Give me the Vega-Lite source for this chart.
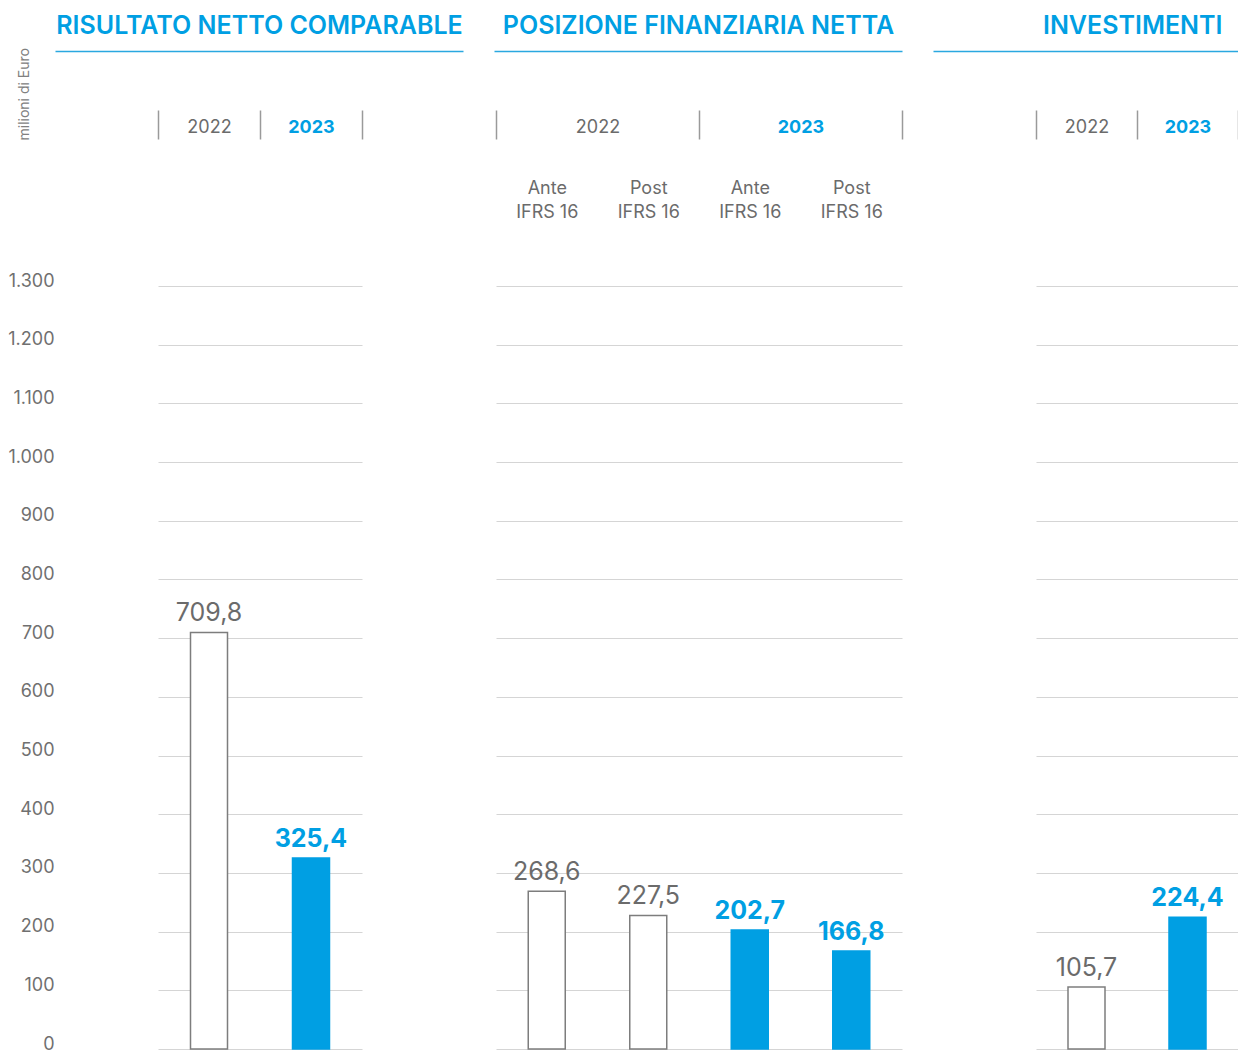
{
  "$schema": "https://vega.github.io/schema/vega-lite/v6.json",
  "autosize": {"type": "pad"},
  "padding": {"left": 7, "top": 13, "right": 0, "bottom": 0},
  "bounds": "flush",
  "spacing": 134,
  "config": {
    "font": "Inter",
    "view": {"stroke": null},
    "locale": {"number": {"decimal": ",", "thousands": ".", "grouping": [3], "currency": ["€", ""]}}
  },
  "datasets": {
    "p1": [
      {"panel": "RISULTATO NETTO COMPARABLE", "year": "2022", "value": 709.8},
      {"panel": "RISULTATO NETTO COMPARABLE", "year": "2023", "value": 325.4}
    ],
    "p2": [
      {"panel": "POSIZIONE FINANZIARIA NETTA", "year": "2022", "type": "Ante", "cat": "2022 Ante", "value": 268.6},
      {"panel": "POSIZIONE FINANZIARIA NETTA", "year": "2022", "type": "Post", "cat": "2022 Post", "value": 227.5},
      {"panel": "POSIZIONE FINANZIARIA NETTA", "year": "2023", "type": "Ante", "cat": "2023 Ante", "value": 202.7},
      {"panel": "POSIZIONE FINANZIARIA NETTA", "year": "2023", "type": "Post", "cat": "2023 Post", "value": 166.8}
    ],
    "p3": [
      {"panel": "INVESTIMENTI", "year": "2022", "value": 105.7},
      {"panel": "INVESTIMENTI", "year": "2023", "value": 224.4}
    ]
  },
  "hconcat": [
    {
      "width": 204,
      "height": 763,
      "data": {"name": "p1"},
      "resolve": {"scale": {"x": "independent"}, "axis": {"x": "independent"}},
      "layer": [
        {
          "mark": {"type": "bar", "width": 37, "strokeWidth": 1.5},
          "encoding": {
            "x": {"field": "year", "type": "nominal", "scale": {"domain": ["2022", "2023"], "paddingInner": 0, "paddingOuter": 0},
              "axis": {"orient": "top", "offset": 147, "tickBand": "extent", "tickOffset": 3, "domain": false, "ticks": true, "tickSize": 29, "tickColor": "#9a9a9a", "tickWidth": 1.5, "grid": false, "labelAngle": 0, "labelFontSize": 18, "labelBaseline": "middle", "labelPadding": -17,
                "labelColor": {"condition": {"test": "datum.value == '2023'", "value": "#009FE3"}, "value": "#6b6b6b"},
                "labelFontWeight": {"condition": {"test": "datum.value == '2023'", "value": "bold"}, "value": "normal"},
                "title": null}},
            "y": {"field": "value", "type": "quantitative", "scale": {"domain": [0, 1300], "nice": false},
              "axis": {"values": [0, 100, 200, 300, 400, 500, 600, 700, 800, 900, 1000, 1100, 1200, 1300], "format": ",d", "grid": true, "gridColor": "#d5d5d5", "gridWidth": 1, "domain": false, "ticks": false, "tickSize": 0, "labelPadding": 104, "labelFontSize": 18, "labelColor": "#707070", "labelBaseline": "alphabetic",
                "title": "milioni di Euro", "titleAngle": -90, "titleAlign": "left", "titleBaseline": "middle", "titleX": -134, "titleY": -146, "titleFontSize": 14, "titleFontWeight": "normal", "titleColor": "#808080"}},
            "fill": {"field": "year", "type": "nominal", "scale": {"domain": ["2022", "2023"], "range": ["#ffffff", "#009FE3"]}, "legend": null},
            "stroke": {"field": "year", "type": "nominal", "scale": {"domain": ["2022", "2023"], "range": ["#7d7d7d", "#009FE3"]}, "legend": null}
          }
        },
        {
          "transform": [{"filter": "datum.year == '2022'"}],
          "mark": {"type": "text", "baseline": "alphabetic", "dy": -11, "fontSize": 25, "color": "#6b6b6b"},
          "encoding": {
            "x": {"field": "year", "type": "nominal", "scale": {"domain": ["2022", "2023"], "paddingInner": 0, "paddingOuter": 0}, "axis": null},
            "y": {"field": "value", "type": "quantitative", "scale": {"domain": [0, 1300], "nice": false},
              "axis": {"values": [0, 100, 200, 300, 400, 500, 600, 700, 800, 900, 1000, 1100, 1200, 1300], "format": ",d", "grid": true, "gridColor": "#d5d5d5", "gridWidth": 1, "domain": false, "ticks": false, "tickSize": 0, "labelPadding": 104, "labelFontSize": 18, "labelColor": "#707070", "labelBaseline": "alphabetic",
                "title": "milioni di Euro", "titleAngle": -90, "titleAlign": "left", "titleBaseline": "middle", "titleX": -134, "titleY": -146, "titleFontSize": 14, "titleFontWeight": "normal", "titleColor": "#808080"}},
            "text": {"field": "value", "type": "quantitative", "format": ",.1f"}
          }
        },
        {
          "transform": [{"filter": "datum.year == '2023'"}],
          "mark": {"type": "text", "baseline": "alphabetic", "dy": -11, "fontSize": 25, "fontWeight": "bold", "color": "#009FE3"},
          "encoding": {
            "x": {"field": "year", "type": "nominal", "scale": {"domain": ["2022", "2023"], "paddingInner": 0, "paddingOuter": 0}, "axis": null},
            "y": {"field": "value", "type": "quantitative", "scale": {"domain": [0, 1300], "nice": false},
              "axis": {"values": [0, 100, 200, 300, 400, 500, 600, 700, 800, 900, 1000, 1100, 1200, 1300], "format": ",d", "grid": true, "gridColor": "#d5d5d5", "gridWidth": 1, "domain": false, "ticks": false, "tickSize": 0, "labelPadding": 104, "labelFontSize": 18, "labelColor": "#707070", "labelBaseline": "alphabetic",
                "title": "milioni di Euro", "titleAngle": -90, "titleAlign": "left", "titleBaseline": "middle", "titleX": -134, "titleY": -146, "titleFontSize": 14, "titleFontWeight": "normal", "titleColor": "#808080"}},
            "text": {"field": "value", "type": "quantitative", "format": ",.1f"}
          }
        },
        {
          "mark": {"type": "point", "opacity": 0},
          "encoding": {
            "x": {"field": "panel", "type": "nominal", "scale": {"range": [-103, 305], "paddingInner": 0, "paddingOuter": 0},
              "axis": {"orient": "top", "offset": 235, "domain": true, "domainColor": "#2aa8e0", "domainWidth": 1.5, "ticks": false, "labels": false, "grid": false,
                "title": "RISULTATO NETTO COMPARABLE", "titleFontSize": 25, "titleFontWeight": 600, "titleColor": "#009FE3", "titleBaseline": "alphabetic", "titlePadding": 18, "titleAnchor": "middle"}}
          }
        }
      ]
    },
    {
      "width": 406,
      "height": 763,
      "data": {"name": "p2"},
      "resolve": {"scale": {"x": "independent"}, "axis": {"x": "independent"}},
      "layer": [
        {
          "mark": {"type": "bar", "width": 37, "strokeWidth": 1.5},
          "encoding": {
            "x": {"field": "year", "type": "nominal", "scale": {"domain": ["2022", "2023"], "paddingInner": 0, "paddingOuter": 0},
              "axis": {"orient": "top", "offset": 147, "tickBand": "extent", "tickOffset": -1, "domain": false, "ticks": true, "tickSize": 29, "tickColor": "#9a9a9a", "tickWidth": 1.5, "grid": false, "labelAngle": 0, "labelFontSize": 18, "labelBaseline": "middle", "labelPadding": -17,
                "labelColor": {"condition": {"test": "datum.value == '2023'", "value": "#009FE3"}, "value": "#6b6b6b"},
                "labelFontWeight": {"condition": {"test": "datum.value == '2023'", "value": "bold"}, "value": "normal"},
                "title": null}},
            "xOffset": {"field": "type", "type": "nominal", "scale": {"domain": ["Ante", "Post"], "paddingInner": 0, "paddingOuter": 0}},
            "y": {"field": "value", "type": "quantitative", "scale": {"domain": [0, 1300], "nice": false},
              "axis": {"values": [0, 100, 200, 300, 400, 500, 600, 700, 800, 900, 1000, 1100, 1200, 1300], "grid": true, "gridColor": "#d5d5d5", "gridWidth": 1, "domain": false, "ticks": false, "labels": false, "title": null}},
            "fill": {"field": "year", "type": "nominal", "scale": {"domain": ["2022", "2023"], "range": ["#ffffff", "#009FE3"]}, "legend": null},
            "stroke": {"field": "year", "type": "nominal", "scale": {"domain": ["2022", "2023"], "range": ["#7d7d7d", "#009FE3"]}, "legend": null}
          }
        },
        {
          "transform": [{"filter": "datum.year == '2022'"}],
          "mark": {"type": "text", "baseline": "alphabetic", "dy": -11, "fontSize": 25, "color": "#6b6b6b"},
          "encoding": {
            "x": {"field": "cat", "type": "nominal", "scale": {"domain": ["2022 Ante", "2022 Post", "2023 Ante", "2023 Post"], "paddingInner": 0, "paddingOuter": 0},
              "axis": {"orient": "top", "offset": 0, "domain": false, "ticks": false, "tickSize": 0, "grid": false, "labelAngle": 0, "labelFontSize": 18, "labelColor": "#6b6b6b", "labelBaseline": "top", "labelPadding": 107, "labelLineHeight": 24,
                "labelExpr": "[split(datum.value, ' ')[1], 'IFRS 16']", "title": null}},
            "y": {"field": "value", "type": "quantitative", "scale": {"domain": [0, 1300], "nice": false},
              "axis": {"values": [0, 100, 200, 300, 400, 500, 600, 700, 800, 900, 1000, 1100, 1200, 1300], "grid": true, "gridColor": "#d5d5d5", "gridWidth": 1, "domain": false, "ticks": false, "labels": false, "title": null}},
            "text": {"field": "value", "type": "quantitative", "format": ",.1f"}
          }
        },
        {
          "transform": [{"filter": "datum.year == '2023'"}],
          "mark": {"type": "text", "baseline": "alphabetic", "dy": -11, "fontSize": 25, "fontWeight": "bold", "color": "#009FE3"},
          "encoding": {
            "x": {"field": "cat", "type": "nominal", "scale": {"domain": ["2022 Ante", "2022 Post", "2023 Ante", "2023 Post"], "paddingInner": 0, "paddingOuter": 0}, "axis": null},
            "y": {"field": "value", "type": "quantitative", "scale": {"domain": [0, 1300], "nice": false},
              "axis": {"values": [0, 100, 200, 300, 400, 500, 600, 700, 800, 900, 1000, 1100, 1200, 1300], "grid": true, "gridColor": "#d5d5d5", "gridWidth": 1, "domain": false, "ticks": false, "labels": false, "title": null}},
            "text": {"field": "value", "type": "quantitative", "format": ",.1f"}
          }
        },
        {
          "mark": {"type": "point", "opacity": 0},
          "encoding": {
            "x": {"field": "panel", "type": "nominal", "scale": {"range": [-2, 406], "paddingInner": 0, "paddingOuter": 0},
              "axis": {"orient": "top", "offset": 235, "domain": true, "domainColor": "#2aa8e0", "domainWidth": 1.5, "ticks": false, "labels": false, "grid": false,
                "title": "POSIZIONE FINANZIARIA NETTA", "titleFontSize": 25, "titleFontWeight": 600, "titleColor": "#009FE3", "titleBaseline": "alphabetic", "titlePadding": 18, "titleAnchor": "middle"}}
          }
        }
      ]
    },
    {
      "width": 202,
      "height": 763,
      "data": {"name": "p3"},
      "resolve": {"scale": {"x": "independent"}, "axis": {"x": "independent"}},
      "layer": [
        {
          "mark": {"type": "bar", "width": 37, "strokeWidth": 1.5},
          "encoding": {
            "x": {"field": "year", "type": "nominal", "scale": {"domain": ["2022", "2023"], "paddingInner": 0, "paddingOuter": 0},
              "axis": {"orient": "top", "offset": 147, "tickBand": "extent", "tickOffset": -1, "domain": false, "ticks": true, "tickSize": 29, "tickColor": "#9a9a9a", "tickWidth": 1.5, "grid": false, "labelAngle": 0, "labelFontSize": 18, "labelBaseline": "middle", "labelPadding": -17,
                "labelColor": {"condition": {"test": "datum.value == '2023'", "value": "#009FE3"}, "value": "#6b6b6b"},
                "labelFontWeight": {"condition": {"test": "datum.value == '2023'", "value": "bold"}, "value": "normal"},
                "title": null}},
            "y": {"field": "value", "type": "quantitative", "scale": {"domain": [0, 1300], "nice": false},
              "axis": {"values": [0, 100, 200, 300, 400, 500, 600, 700, 800, 900, 1000, 1100, 1200, 1300], "grid": true, "gridColor": "#d5d5d5", "gridWidth": 1, "domain": false, "ticks": false, "labels": false, "title": null}},
            "fill": {"field": "year", "type": "nominal", "scale": {"domain": ["2022", "2023"], "range": ["#ffffff", "#009FE3"]}, "legend": null},
            "stroke": {"field": "year", "type": "nominal", "scale": {"domain": ["2022", "2023"], "range": ["#7d7d7d", "#009FE3"]}, "legend": null}
          }
        },
        {
          "transform": [{"filter": "datum.year == '2022'"}],
          "mark": {"type": "text", "baseline": "alphabetic", "dy": -11, "fontSize": 25, "color": "#6b6b6b"},
          "encoding": {
            "x": {"field": "year", "type": "nominal", "scale": {"domain": ["2022", "2023"], "paddingInner": 0, "paddingOuter": 0}, "axis": null},
            "y": {"field": "value", "type": "quantitative", "scale": {"domain": [0, 1300], "nice": false},
              "axis": {"values": [0, 100, 200, 300, 400, 500, 600, 700, 800, 900, 1000, 1100, 1200, 1300], "grid": true, "gridColor": "#d5d5d5", "gridWidth": 1, "domain": false, "ticks": false, "labels": false, "title": null}},
            "text": {"field": "value", "type": "quantitative", "format": ",.1f"}
          }
        },
        {
          "transform": [{"filter": "datum.year == '2023'"}],
          "mark": {"type": "text", "baseline": "alphabetic", "dy": -11, "fontSize": 25, "fontWeight": "bold", "color": "#009FE3"},
          "encoding": {
            "x": {"field": "year", "type": "nominal", "scale": {"domain": ["2022", "2023"], "paddingInner": 0, "paddingOuter": 0}, "axis": null},
            "y": {"field": "value", "type": "quantitative", "scale": {"domain": [0, 1300], "nice": false},
              "axis": {"values": [0, 100, 200, 300, 400, 500, 600, 700, 800, 900, 1000, 1100, 1200, 1300], "grid": true, "gridColor": "#d5d5d5", "gridWidth": 1, "domain": false, "ticks": false, "labels": false, "title": null}},
            "text": {"field": "value", "type": "quantitative", "format": ",.1f"}
          }
        },
        {
          "mark": {"type": "point", "opacity": 0},
          "encoding": {
            "x": {"field": "panel", "type": "nominal", "scale": {"range": [-103, 202], "paddingInner": 0, "paddingOuter": 0},
              "axis": {"orient": "top", "offset": 235, "domain": true, "domainColor": "#2aa8e0", "domainWidth": 1.5, "ticks": false, "labels": false, "grid": false,
                "title": "INVESTIMENTI", "titleFontSize": 25, "titleFontWeight": 600, "titleColor": "#009FE3", "titleBaseline": "alphabetic", "titlePadding": 18, "titleX": 186, "titleAlign": "right"}}
          }
        }
      ]
    }
  ]
}
